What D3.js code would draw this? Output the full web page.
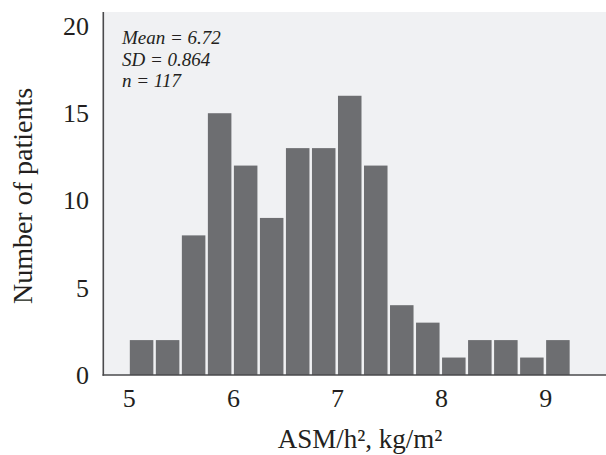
<!DOCTYPE html>
<html><head><meta charset="utf-8">
<script src="https://cdn.jsdelivr.net/npm/d3@7"></script>
<style>html,body{margin:0;padding:0;background:#fff;}svg{display:block;}</style>
</head><body>
<script>
const binStarts = [5.0,5.25,5.5,5.75,6.0,6.25,6.5,6.75,7.0,7.25,7.5,7.75,8.0,8.25,8.5,8.75,9.0];
const counts    = [2,2,8,15,12,9,13,13,16,12,4,3,1,2,2,1,2];
const binWidth = 0.25;
const xTicks = [5,6,7,8,9];
const yTicks = [0,5,10,15,20];
const statsLines = ["Mean = 6.72","SD = 0.864","n = 117"];
const xTitle = "ASM/h², kg/m²";
const yTitle = "Number of patients";

const W = 606, H = 455;
const svg = d3.select("body").append("svg").attr("width", W).attr("height", H);
const font = "'Liberation Serif','Times New Roman',serif";
const textColor = "#231f20";

const x = d3.scaleLinear().domain([4.75, 9.58]).range([103.3, 606]);
const y = d3.scaleLinear().domain([0, 20.8]).range([375, 12]);

// plot background
svg.append("rect").attr("x", x(4.75)).attr("y", y(20.8))
  .attr("width", x(9.58) - x(4.75)).attr("height", y(0) - y(20.8))
  .attr("fill", "#f0f1f3");

// bars
const bins = binStarts.map((s, i) => ({x0: s, x1: s + binWidth, n: counts[i]}));
svg.append("g").selectAll("rect").data(bins).join("rect")
  .attr("x", d => x(d.x0) + 0.5)
  .attr("width", d => x(d.x1) - x(d.x0) - 2.5)
  .attr("y", d => y(d.n))
  .attr("height", d => y(0) - y(d.n))
  .attr("fill", "#6d6e71");

// axes lines
svg.append("line").attr("x1", x(4.75)).attr("x2", x(4.75))
  .attr("y1", y(20.8)).attr("y2", y(0)+0.75)
  .attr("stroke", "#4a4a4c").attr("stroke-width", 1.6);
svg.append("line").attr("x1", x(4.75)-0.8).attr("x2", x(9.58))
  .attr("y1", y(0)).attr("y2", y(0))
  .attr("stroke", "#4a4a4c").attr("stroke-width", 1.6);

// y tick labels
svg.append("g").selectAll("text").data(yTicks).join("text")
  .attr("x", 89).attr("y", d => y(d) + 9)
  .attr("text-anchor", "end")
  .attr("font-family", font).attr("font-size", 26).attr("fill", textColor)
  .text(d => d);

// x tick labels
svg.append("g").selectAll("text").data(xTicks).join("text")
  .attr("x", d => x(d)).attr("y", 407)
  .attr("text-anchor", "middle")
  .attr("font-family", font).attr("font-size", 26).attr("fill", textColor)
  .text(d => d);

// titles
svg.append("text").attr("x", 360).attr("y", 448)
  .attr("text-anchor", "middle")
  .attr("font-family", font).attr("font-size", 27).attr("fill", textColor)
  .text(xTitle);
svg.append("text")
  .attr("transform", "translate(32,196) rotate(-90)")
  .attr("text-anchor", "middle")
  .attr("font-family", font).attr("font-size", 28).attr("fill", textColor)
  .text(yTitle);

// stats annotation
svg.append("g").selectAll("text").data(statsLines).join("text")
  .attr("x", 122).attr("y", (d, i) => 44 + i * 21.5)
  .attr("font-family", font).attr("font-style", "italic")
  .attr("font-size", 19).attr("fill", textColor)
  .text(d => d);
</script>
</body></html>
